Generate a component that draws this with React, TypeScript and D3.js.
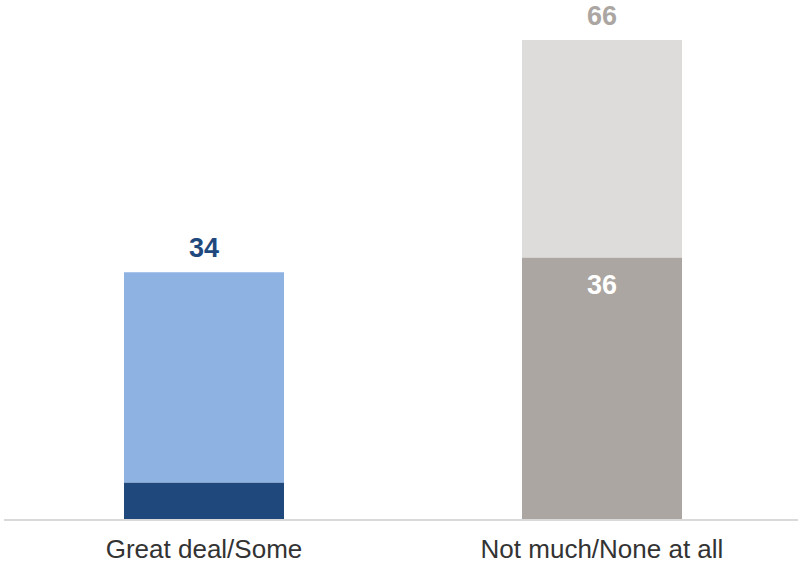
import React from "react";
import * as d3 from "d3";

const categories = ["Great deal/Some", "Not much/None at all"];
const baseValues = [5, 36];
const totalValues = [34, 66];
const baseLabels = ["", "36"];
const totalLabels = ["34", "66"];
const baseColors = ["#1f497d", "#aba6a2"];
const topColors = ["#8eb3e2", "#dddcdb"];
const totalLabelColors = ["#1f497d", "#aba6a2"];

const W = 798;
const H = 566;

export default function App() {
  const x = d3
    .scaleBand<string>()
    .domain(categories)
    .range([5, 801])
    .paddingInner(0.598)
    .paddingOuter(0.299);
  const y = d3.scaleLinear().domain([0, 66]).range([519, 40]);
  const font = "Arial, 'Liberation Sans', sans-serif";
  return (
    <svg
      width={W}
      height={H}
      style={{ position: "absolute", left: 0, top: 0, background: "#fff" }}
      fontFamily={font}
    >
      {categories.map((c, i) => {
        const x0 = x(c)!;
        const bw = x.bandwidth();
        const cx = x0 + bw / 2;
        return (
          <g key={c}>
            <rect x={x0} y={y(totalValues[i])} width={bw} height={y(baseValues[i]) - y(totalValues[i])} fill={topColors[i]} />
            <rect x={x0} y={y(baseValues[i])} width={bw} height={y(0) - y(baseValues[i])} fill={baseColors[i]} />
            <text x={cx} y={y(totalValues[i]) - 15} textAnchor="middle" fontSize={27} fontWeight="bold" fill={totalLabelColors[i]}>
              {totalLabels[i]}
            </text>
            {baseLabels[i] && (
              <text x={cx} y={y(baseValues[i]) + 36} textAnchor="middle" fontSize={27} fontWeight="bold" fill="#ffffff">
                {baseLabels[i]}
              </text>
            )}
            <text x={cx} y={558} textAnchor="middle" fontSize={26} fill="#333333">
              {c}
            </text>
          </g>
        );
      })}
      <line x1={4} x2={798} y1={y(0) + 1} y2={y(0) + 1} stroke="#d9d9d9" strokeWidth={2} />
    </svg>
  );
}
